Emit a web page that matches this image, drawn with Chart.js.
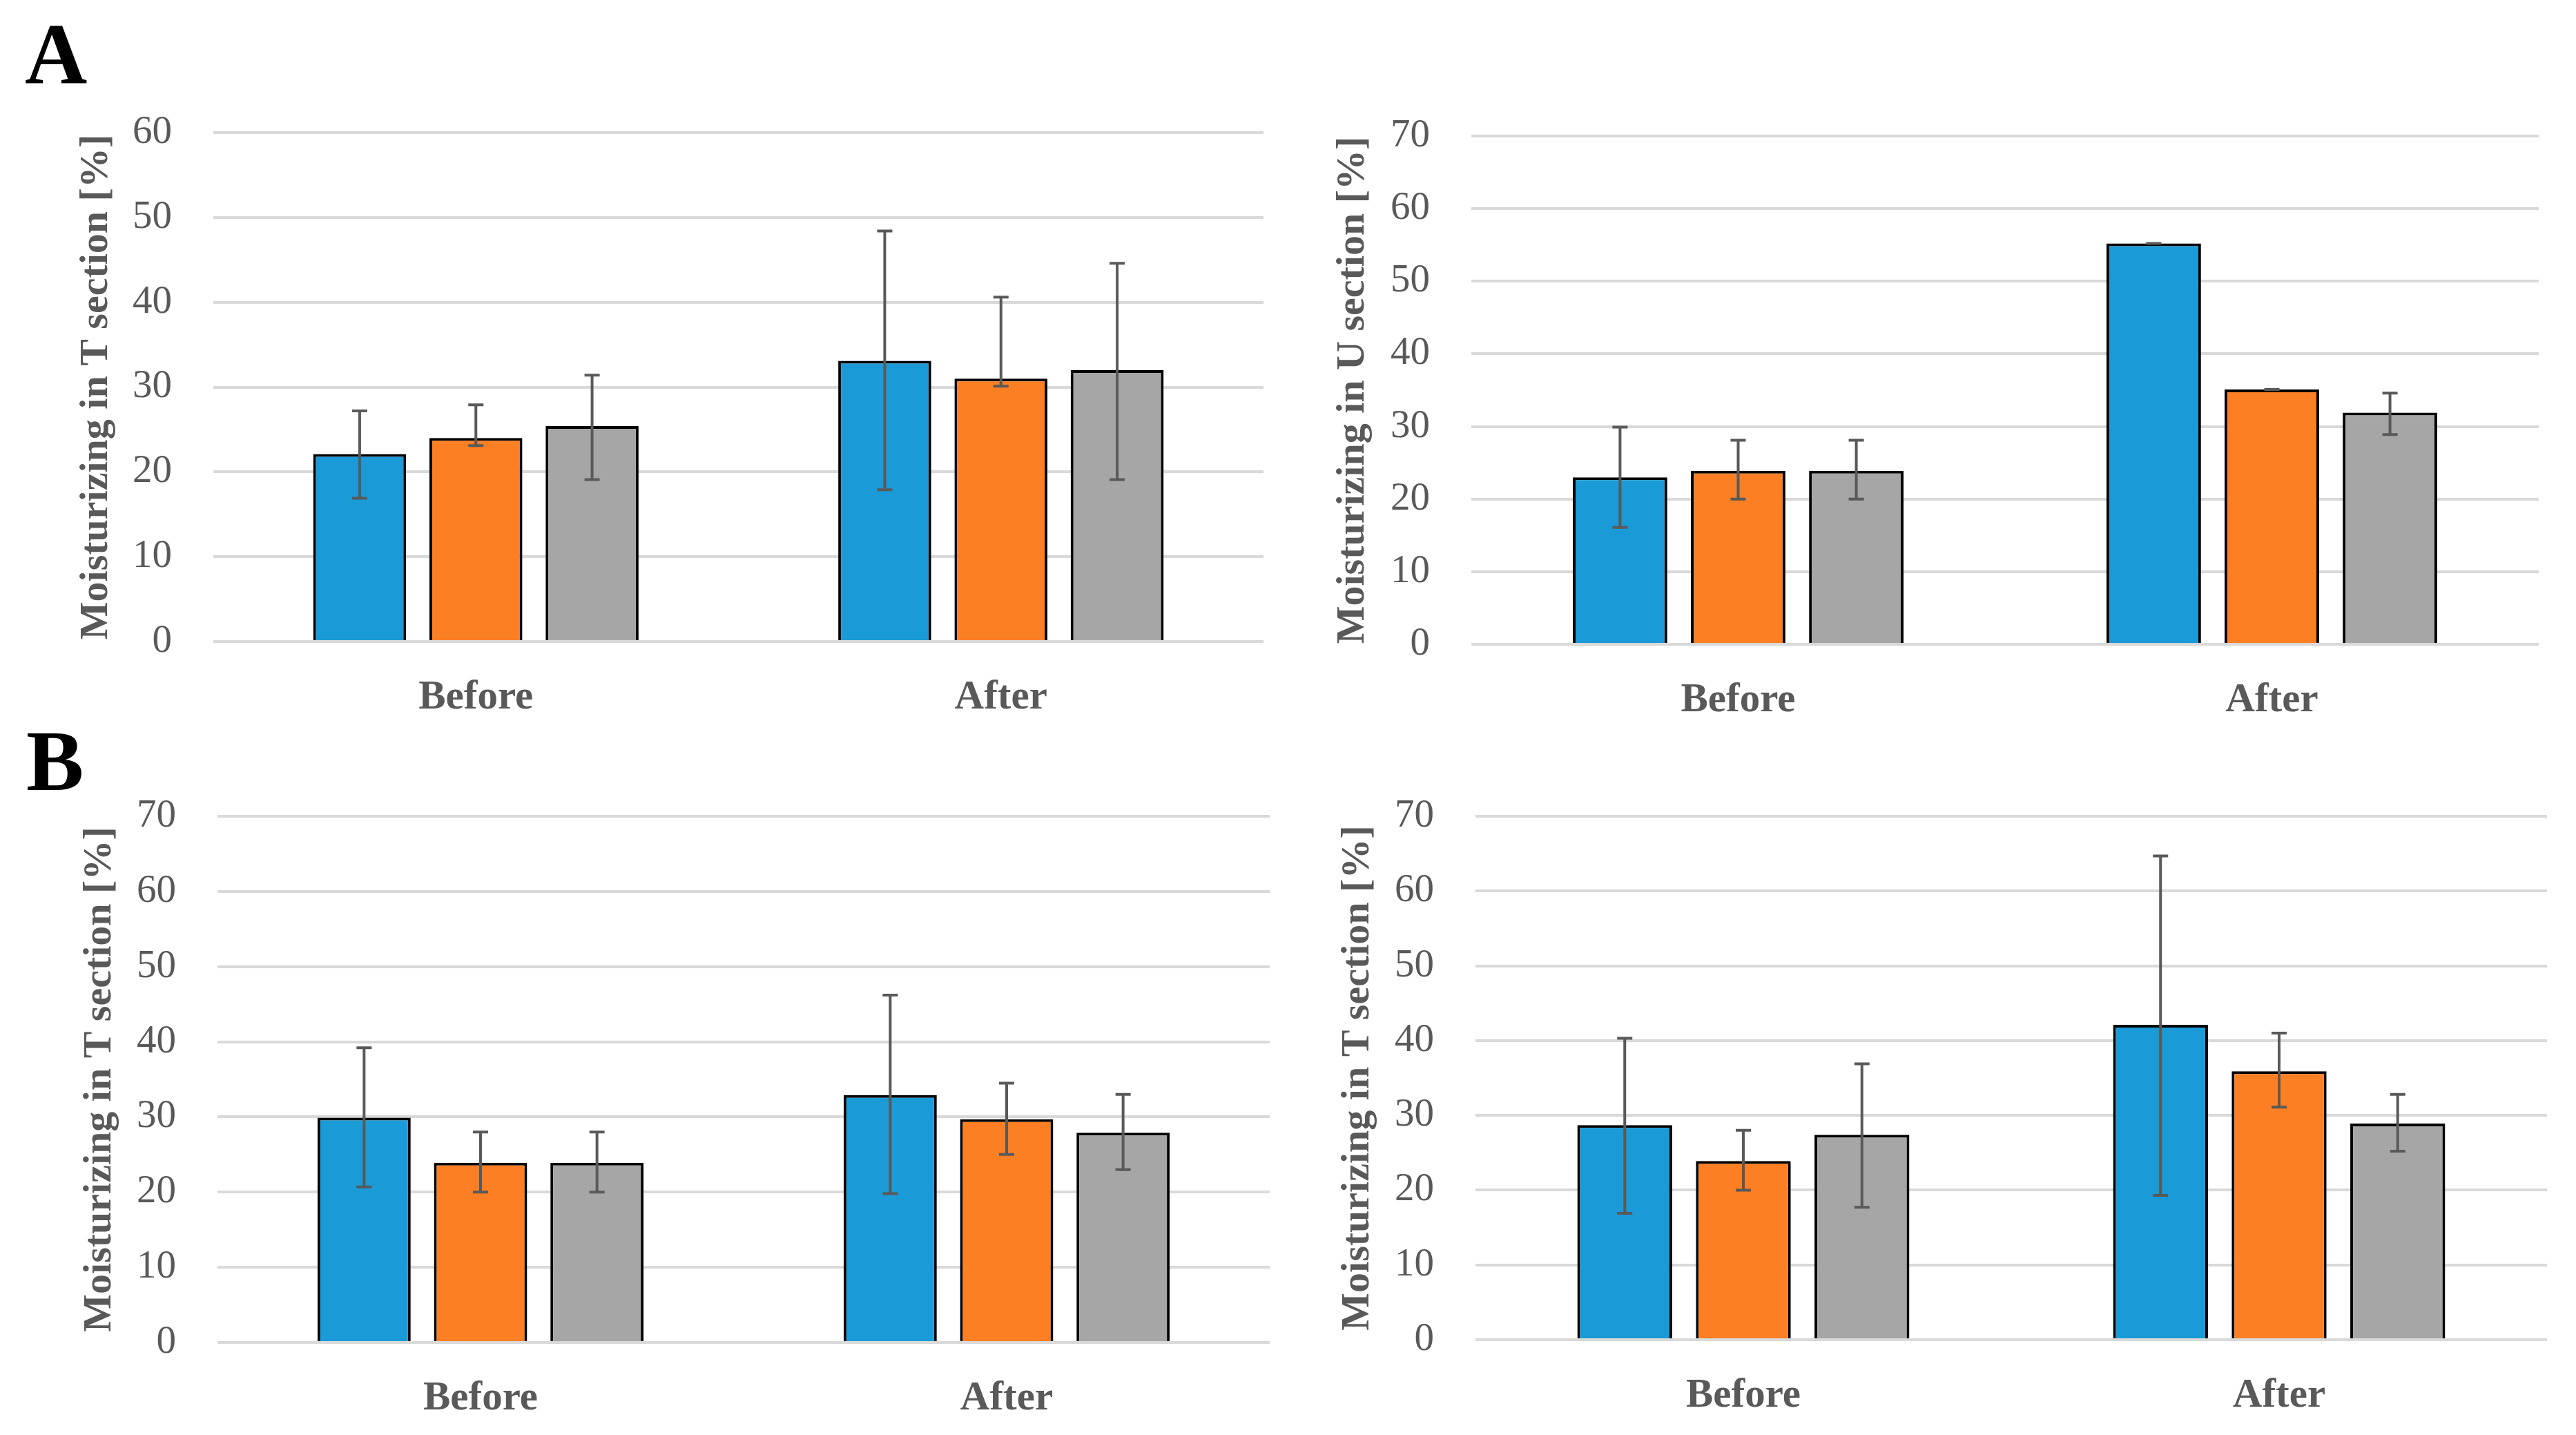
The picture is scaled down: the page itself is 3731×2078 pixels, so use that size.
<!DOCTYPE html>
<html>
<head>
<meta charset="utf-8">
<script src="https://cdn.jsdelivr.net/npm/chart.js@4/dist/chart.umd.min.js"></script>
<style>
  html, body { margin: 0; padding: 0; background: #fff; overflow: hidden; }
  body { width: 3731px; height: 2078px; position: relative; }
  .panel { position: absolute; }
  .tag { position: absolute; font-family: "Liberation Serif", serif; font-weight: bold;
         font-size: 125px; line-height: 125px; color: #000; }
</style>
</head>
<body>
<div class="tag" style="left:36px; top:16px;">A</div>
<div class="tag" style="left:38px; top:1040px;">B</div>

<div class="panel" style="left:0px; top:0px; width:1870px; height:1060px;"><canvas id="chart-a-t"></canvas></div>
<div class="panel" style="left:1870px; top:0px; width:1861px; height:1060px;"><canvas id="chart-a-u"></canvas></div>
<div class="panel" style="left:0px; top:1060px; width:1870px; height:1018px;"><canvas id="chart-b-t1"></canvas></div>
<div class="panel" style="left:1870px; top:1060px; width:1861px; height:1018px;"><canvas id="chart-b-t2"></canvas></div>

<script>
// Categories shared by all four panels
const categories = ["Before", "After"];

// Panel A, T section: means and [low, high] error ends
const aT_blue = [22.1, 33.1];
const aT_blueErr = [[16.9, 27.2], [17.9, 48.4]];
const aT_orange = [24.0, 31.0];
const aT_orangeErr = [[23.1, 27.9], [30.1, 40.6]];
const aT_gray = [25.4, 32.0];
const aT_grayErr = [[19.1, 31.4], [19.1, 44.6]];

// Panel A, U section
const aU_blue = [23.0, 55.2];
const aU_blueErr = [[16.1, 29.9], [55.2, 55.2]];
const aU_orange = [23.9, 35.1];
const aU_orangeErr = [[20.0, 28.1], [35.1, 35.1]];
const aU_gray = [23.9, 31.9];
const aU_grayErr = [[20.0, 28.1], [28.9, 34.6]];

// Panel B, left T section
const bT1_blue = [29.9, 32.9];
const bT1_blueErr = [[20.7, 39.2], [19.8, 46.2]];
const bT1_orange = [23.9, 29.7];
const bT1_orangeErr = [[20.0, 28.0], [25.0, 34.5]];
const bT1_gray = [23.9, 27.9];
const bT1_grayErr = [[20.0, 28.0], [23.0, 33.0]];

// Panel B, right T section
const bT2_blue = [28.7, 42.1];
const bT2_blueErr = [[16.9, 40.3], [19.3, 64.7]];
const bT2_orange = [23.9, 35.9];
const bT2_orangeErr = [[20.0, 28.0], [31.1, 41.0]];
const bT2_gray = [27.4, 28.9];
const bT2_grayErr = [[17.7, 36.9], [25.2, 32.8]];

// Axis maxima
const aT_max = 60;
const aU_max = 70;
const bT1_max = 70;
const bT2_max = 70;

const colors = ["rgb(26, 155, 215)", "rgb(253, 127, 36)", "rgb(166, 166, 166)"];
const textColor = "#595959";
const fontFamily = "'Liberation Serif', 'Times New Roman', serif";

// Draws the custom (asymmetric) error bars on top of the bars
const errorBarPlugin = {
  id: "errorBars",
  afterDatasetsDraw(chart) {
    const ctx = chart.ctx;
    const y = chart.scales.y;
    ctx.save();
    ctx.strokeStyle = "#595959";
    ctx.lineWidth = 4;
    chart.data.datasets.forEach((ds, i) => {
      const meta = chart.getDatasetMeta(i);
      meta.data.forEach((bar, j) => {
        const [lo, hi] = ds.errors[j];
        const yLo = y.getPixelForValue(lo);
        const yHi = y.getPixelForValue(hi);
        const cap = 11;
        ctx.beginPath();
        ctx.moveTo(bar.x, yLo);
        ctx.lineTo(bar.x, yHi);
        ctx.moveTo(bar.x - cap, yLo);
        ctx.lineTo(bar.x + cap, yLo);
        ctx.moveTo(bar.x - cap, yHi);
        ctx.lineTo(bar.x + cap, yHi);
        ctx.stroke();
      });
    });
    ctx.restore();
  }
};

// Build one panel
function makeChart(id, series, errors, yMax, title, box) {
  const ctx = document.getElementById(id).getContext("2d");
  return new Chart(ctx, {
    type: "bar",
    data: {
      labels: categories,
      datasets: series.map((values, i) => ({
        data: values,
        errors: errors[i],
        backgroundColor: colors[i],
        borderColor: "#000",
        borderWidth: 4,
        borderSkipped: "bottom",
        categoryPercentage: 0.664,
        barPercentage: 0.8,
      })),
    },
    options: {
      animation: false,
      responsive: true,
      maintainAspectRatio: false,
      layout: {
        padding: { left: 0, top: box.top, right: box.right, bottom: box.bottom },
      },
      plugins: {
        legend: { display: false },
        tooltip: { enabled: false },
      },
      scales: {
        x: {
          grid: { display: false },
          border: { display: false },
          ticks: {
            color: textColor,
            padding: 38,
            font: { family: fontFamily, size: 59, weight: "bold" },
          },
          afterFit: (s) => { s.height = 120; },
        },
        y: {
          min: 0,
          max: yMax,
          grid: { color: "#d9d9d9", lineWidth: 4, drawTicks: false },
          border: { display: false },
          ticks: {
            stepSize: 10,
            color: textColor,
            padding: 60,
            font: { family: fontFamily, size: 57 },
          },
          title: {
            display: true,
            text: title,
            color: textColor,
            padding: { top: box.titlePad, bottom: 0 },
            font: { family: fontFamily, size: 58, weight: "bold" },
          },
          afterFit: (s) => { s.width = box.axisWidth; },
        },
      },
    },
    plugins: [errorBarPlugin],
  });
}

makeChart("chart-a-t",
  [aT_blue, aT_orange, aT_gray], [aT_blueErr, aT_orangeErr, aT_grayErr],
  aT_max, "Moisturizing in T section [%]",
  { axisWidth: 309, top: 192, right: 40, bottom: 11, titlePad: 105 });

makeChart("chart-a-u",
  [aU_blue, aU_orange, aU_gray], [aU_blueErr, aU_orangeErr, aU_grayErr],
  aU_max, "Moisturizing in U section [%]",
  { axisWidth: 261, top: 197, right: 54, bottom: 7, titlePad: 55 });

makeChart("chart-b-t1",
  [bT1_blue, bT1_orange, bT1_gray], [bT1_blueErr, bT1_orangeErr, bT1_grayErr],
  bT1_max, "Moisturizing in T section [%]",
  { axisWidth: 315, top: 122, right: 31, bottom: 14, titlePad: 110 });

makeChart("chart-b-t2",
  [bT2_blue, bT2_orange, bT2_gray], [bT2_blueErr, bT2_orangeErr, bT2_grayErr],
  bT2_max, "Moisturizing in T section [%]",
  { axisWidth: 267, top: 122, right: 42, bottom: 18, titlePad: 62 });
</script>
</body>
</html>
